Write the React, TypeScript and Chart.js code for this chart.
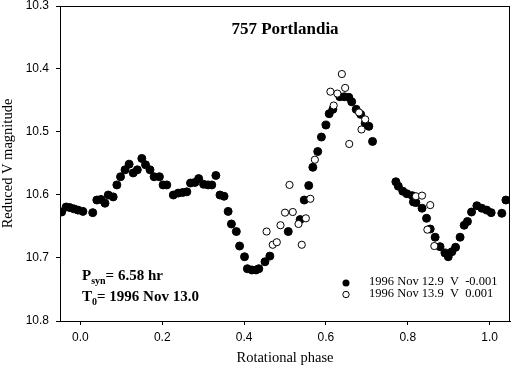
import React, { useEffect, useRef } from "react";
import { Chart, registerables } from "chart.js";

Chart.register(...registerables);

const phase1 = [-0.046,-0.035,-0.026,-0.016,-0.006,0.006,0.030,0.040,0.050,0.060,
  0.068,0.080,0.089,0.098,0.109,0.119,0.129,0.139,0.150,0.159,
  0.170,0.180,0.193,0.202,0.211,0.227,0.239,0.250,0.260,0.269,
  0.280,0.289,0.301,0.312,0.321,0.331,0.341,0.351,0.361,0.369,
  0.381,0.389,0.401,0.408,0.419,0.429,0.436,0.451,0.463,0.508,
  0.537,0.547,0.558,0.568,0.580,0.589,0.600,0.608,0.617,0.634,
  0.645,0.656,0.663,0.674,0.685,0.696,0.705,0.714,0.771,0.777,
  0.788,0.798,0.811,0.814,0.820,0.835,0.846,0.855,0.867,0.879,
  0.891,0.899,0.908,0.917,0.928,0.938,0.946,0.956,0.969,0.981,
  0.993,1.004,1.030,1.040];
const mag1 = [10.627,10.619,10.620,10.622,10.624,10.626,10.628,10.608,10.607,10.613,
  10.600,10.603,10.584,10.571,10.560,10.551,10.565,10.560,10.542,10.552,
  10.560,10.571,10.571,10.584,10.584,10.600,10.597,10.596,10.595,10.581,
  10.580,10.574,10.583,10.584,10.584,10.569,10.600,10.602,10.626,10.646,
  10.658,10.681,10.698,10.717,10.719,10.719,10.717,10.706,10.697,10.658,
  10.639,10.608,10.585,10.556,10.531,10.508,10.489,10.471,10.464,10.444,
  10.444,10.445,10.452,10.464,10.472,10.486,10.491,10.515,10.579,10.586,
  10.594,10.598,10.601,10.611,10.612,10.621,10.637,10.654,10.667,10.682,
  10.692,10.698,10.690,10.683,10.667,10.648,10.642,10.627,10.617,10.621,
  10.624,10.628,10.629,10.608];

const phase2 = [0.455,0.470,0.480,0.489,0.500,0.511,0.519,0.533,0.541,0.551,0.562,0.573,
  0.611,0.619,0.628,0.639,0.647,0.657,0.681,0.687,0.696,0.820,0.835,0.848,0.855,0.865];
const mag2 = [10.658,10.679,10.675,10.648,10.628,10.584,10.627,10.646,10.679,10.637,10.606,10.544,
  10.436,10.458,10.439,10.408,10.430,10.519,10.469,10.496,10.480,10.602,10.601,10.655,10.616,10.681];

const xTicks = [0.0, 0.2, 0.4, 0.6, 0.8, 1.0];
const yTicks = [10.3, 10.4, 10.5, 10.6, 10.7, 10.8];

const titleText = "757 Portlandia";
const legendLabels = ["1996 Nov 12.9  V  -0.001", "1996 Nov 13.9  V  0.001"];
const xTitle = "Rotational phase";
const yTitle = "Reduced V magnitude";

const SERIF = '"Liberation Serif", "Times New Roman", serif';
const SANS = '"Liberation Sans", Arial, sans-serif';

const textPlugin = {
  id: "texts",
  afterDraw(chart: any) {
    const ctx = chart.ctx;
    const a = chart.chartArea;
    ctx.save();
    ctx.strokeStyle = "#000";
    ctx.lineWidth = 1;
    ctx.strokeRect(a.left + 0.5, a.top + 0.5, a.right - a.left - 1, a.bottom - a.top);
    ctx.fillStyle = "#000";
    ctx.textBaseline = "middle";
    // title
    ctx.font = `bold 17px ${SERIF}`;
    ctx.textAlign = "center";
    ctx.fillText(titleText, (a.left + a.right) / 2, 30);
    // annotations
    const drawSub = (x: number, y: number, main: string, sub: string, rest: string) => {
      ctx.textAlign = "left";
      ctx.font = `bold 15px ${SERIF}`;
      ctx.fillText(main, x, y);
      let w = ctx.measureText(main).width;
      ctx.font = `bold 10px ${SERIF}`;
      ctx.fillText(sub, x + w, y + 5);
      w += ctx.measureText(sub).width;
      ctx.font = `bold 15px ${SERIF}`;
      ctx.fillText(rest, x + w, y);
    };
    drawSub(82, 276, "P", "syn", "= 6.58 hr");
    drawSub(82, 297, "T", "0", "= 1996 Nov 13.0");
    // legend
    ctx.font = `12.5px ${SERIF}`;
    ctx.textAlign = "left";
    ctx.beginPath();
    ctx.arc(346, 283, 3.5, 0, Math.PI * 2);
    ctx.fill();
    ctx.beginPath();
    ctx.arc(346, 294.5, 3.2, 0, Math.PI * 2);
    ctx.fillStyle = "#fff";
    ctx.fill();
    ctx.stroke();
    ctx.fillStyle = "#000";
    ctx.fillText(legendLabels[0], 369, 282);
    ctx.fillText(legendLabels[1], 369, 293.5);
    // axis titles
    ctx.font = `14.5px ${SERIF}`;
    ctx.textAlign = "center";
    ctx.fillText(xTitle, (a.left + a.right) / 2, 358);
    ctx.translate(8, (a.top + a.bottom) / 2);
    ctx.rotate(-Math.PI / 2);
    ctx.fillText(yTitle, 0, 0);
    ctx.restore();
  },
};

export default function App() {
  const ref = useRef<HTMLCanvasElement>(null);
  useEffect(() => {
    if (!ref.current) return;
    const chart = new Chart(ref.current, {
      type: "scatter",
      data: {
        datasets: [
          {
            label: legendLabels[0],
            data: phase1.map((x, i) => ({ x, y: mag1[i] })),
            backgroundColor: "#000",
            borderColor: "#000",
            borderWidth: 1,
            pointRadius: 4,
            pointHoverRadius: 4,
            order: 2,
          },
          {
            label: legendLabels[1],
            data: phase2.map((x, i) => ({ x, y: mag2[i] })),
            backgroundColor: "#fff",
            borderColor: "#000",
            borderWidth: 1,
            pointRadius: 3.6,
            pointHoverRadius: 3.6,
            order: 1,
          },
        ],
      },
      options: {
        responsive: false,
        animation: false,
        devicePixelRatio: 1,
        layout: { autoPadding: false, padding: { top: 6, right: 1, left: 0, bottom: 0 } },
        plugins: {
          legend: { display: false },
          tooltip: { enabled: false },
          title: { display: false },
        },
        scales: {
          x: {
            type: "linear",
            min: -0.05,
            max: 1.05,
            afterBuildTicks: (s: any) => {
              s.ticks = xTicks.map((v) => ({ value: v }));
            },
            afterFit: (s: any) => {
              s.height = 48;
              s.paddingLeft = 0;
              s.paddingRight = 0;
            },
            ticks: {
              color: "#000",
              font: { family: SANS, size: 12 },
              padding: 5,
              callback: (v: any) => Number(v).toFixed(1),
            },
            grid: { drawOnChartArea: false, drawTicks: true, tickLength: 4, color: "#000" },
            border: { color: "#000", width: 1 },
          },
          y: {
            type: "linear",
            reverse: true,
            min: 10.3,
            max: 10.8,
            afterBuildTicks: (s: any) => {
              s.ticks = yTicks.map((v) => ({ value: v }));
            },
            afterFit: (s: any) => {
              s.width = 60;
              s.paddingTop = 0;
              s.paddingBottom = 0;
            },
            ticks: {
              color: "#000",
              font: { family: SANS, size: 12 },
              padding: 7,
              callback: (v: any) => Number(v).toFixed(1),
            },
            grid: { drawOnChartArea: false, drawTicks: true, tickLength: 4, color: "#000" },
            border: { color: "#000", width: 1 },
          },
        },
      },
      plugins: [textPlugin],
    });
    return () => chart.destroy();
  }, []);
  return (
    <div style={{ position: "absolute", left: 0, top: 0, width: 511, height: 369, background: "#fff" }}>
      <canvas ref={ref} width={511} height={369} style={{ width: 511, height: 369, display: "block" }} />
    </div>
  );
}
